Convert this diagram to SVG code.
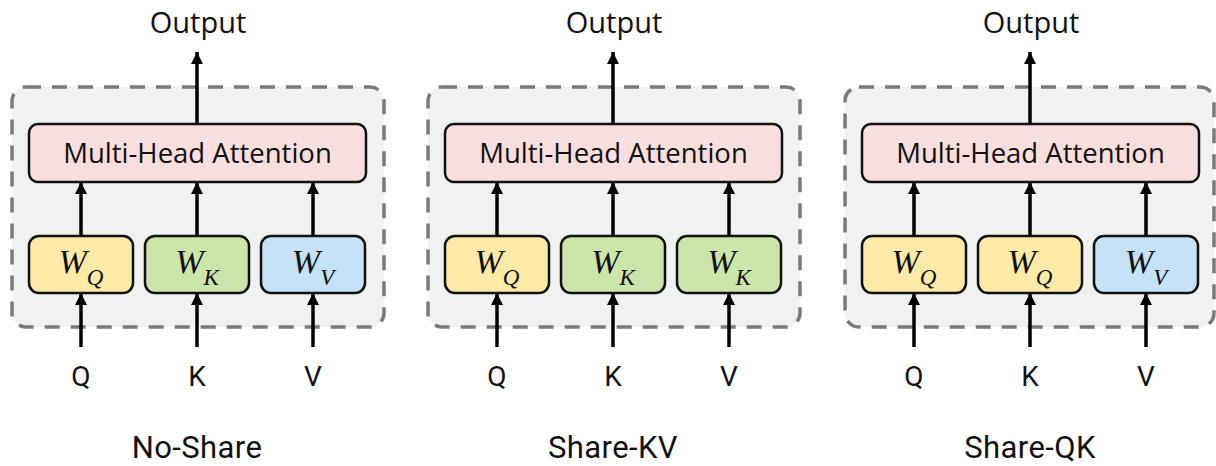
<svg xmlns="http://www.w3.org/2000/svg" width="1216" height="466" viewBox="0 0 1216 466">
<style>
.frame{fill:#F1F1F1;stroke:#7A7A7A;stroke-width:3.5;stroke-dasharray:15 11}
.mha{fill:#F9DEDE;stroke:#111;stroke-width:2.5}
.wq{fill:#FDEAA8;stroke:#111;stroke-width:2.5}
.wk{fill:#CBE5AB;stroke:#111;stroke-width:2.5}
.wv{fill:#C5E2F6;stroke:#111;stroke-width:2.5}
.os{font-family:"Open Sans","Liberation Sans",sans-serif;fill:#111;text-anchor:middle}
.rb{font-family:Roboto,"Liberation Sans",sans-serif;fill:#111;text-anchor:middle}
.lbl{font-size:31px;letter-spacing:0.4px}
.w{font-family:"Liberation Serif","DejaVu Serif",serif;font-style:italic;fill:#111;text-anchor:middle;font-size:34px}
.sub{font-size:23px}
.arr{stroke:#000;stroke-width:3.5;fill:none;marker-end:url(#ah)}
</style>
<defs>
<marker id="ah" viewBox="0 0 12 12" refX="12" refY="6" markerWidth="12" markerHeight="12" markerUnits="userSpaceOnUse" orient="auto">
<path d="M0,0 L12,6 L0,12 z" fill="#000"/>
</marker>
</defs>
<rect width="1216" height="466" fill="#fff"/>

<!-- Panel 1: No-Share -->
<g id="panel-noshare">
<g id="p1-frame"><rect class="frame" x="12" y="87" width="372" height="240" rx="14"/></g>
<g id="p1-mha"><rect class="mha" x="29" y="124" width="337" height="58" rx="9"/><text class="os" x="197.5" y="163" font-size="27.5">Multi-Head Attention</text></g>
<g id="p1-wq"><rect class="wq" x="29" y="236" width="104" height="57" rx="10"/><text class="w" x="81" y="273">W<tspan class="sub" dy="12">Q</tspan></text></g>
<g id="p1-wk"><rect class="wk" x="145" y="236" width="104" height="57" rx="10"/><text class="w" x="197" y="273">W<tspan class="sub" dy="12">K</tspan></text></g>
<g id="p1-wv"><rect class="wv" x="261" y="236" width="104" height="57" rx="10"/><text class="w" x="313" y="273">W<tspan class="sub" dy="12">V</tspan></text></g>
<g id="p1-output"><text class="os" x="198" y="33" font-size="29">Output</text></g>
<g id="p1-q"><text class="rb" x="81" y="386" font-size="28">Q</text></g>
<g id="p1-k"><text class="rb" x="197" y="386" font-size="28">K</text></g>
<g id="p1-v"><text class="rb" x="313" y="386" font-size="28">V</text></g>
<g id="p1-label"><text class="rb lbl" x="197" y="458">No-Share</text></g>
</g>

<!-- Panel 2: Share-KV -->
<g id="panel-sharekv" transform="translate(416,0)">
<g id="p2-frame"><rect class="frame" x="12" y="87" width="372" height="240" rx="14"/></g>
<g id="p2-mha"><rect class="mha" x="29" y="124" width="337" height="58" rx="9"/><text class="os" x="197.5" y="163" font-size="27.5">Multi-Head Attention</text></g>
<g id="p2-wq"><rect class="wq" x="29" y="236" width="104" height="57" rx="10"/><text class="w" x="81" y="273">W<tspan class="sub" dy="12">Q</tspan></text></g>
<g id="p2-wk1"><rect class="wk" x="145" y="236" width="104" height="57" rx="10"/><text class="w" x="197" y="273">W<tspan class="sub" dy="12">K</tspan></text></g>
<g id="p2-wk2"><rect class="wk" x="261" y="236" width="104" height="57" rx="10"/><text class="w" x="313" y="273">W<tspan class="sub" dy="12">K</tspan></text></g>
<g id="p2-output"><text class="os" x="198" y="33" font-size="29">Output</text></g>
<g id="p2-q"><text class="rb" x="81" y="386" font-size="28">Q</text></g>
<g id="p2-k"><text class="rb" x="197" y="386" font-size="28">K</text></g>
<g id="p2-v"><text class="rb" x="313" y="386" font-size="28">V</text></g>
<g id="p2-label"><text class="rb lbl" x="197" y="458">Share-KV</text></g>
</g>

<!-- Panel 3: Share-QK -->
<g id="panel-shareqk" transform="translate(833,0)">
<g id="p3-frame"><rect class="frame" x="12" y="87" width="369" height="240" rx="14"/></g>
<g id="p3-mha"><rect class="mha" x="29" y="124" width="337" height="58" rx="9"/><text class="os" x="197.5" y="163" font-size="27.5">Multi-Head Attention</text></g>
<g id="p3-wq1"><rect class="wq" x="29" y="236" width="104" height="57" rx="10"/><text class="w" x="81" y="273">W<tspan class="sub" dy="12">Q</tspan></text></g>
<g id="p3-wq2"><rect class="wq" x="145" y="236" width="104" height="57" rx="10"/><text class="w" x="197" y="273">W<tspan class="sub" dy="12">Q</tspan></text></g>
<g id="p3-wv"><rect class="wv" x="261" y="236" width="104" height="57" rx="10"/><text class="w" x="313" y="273">W<tspan class="sub" dy="12">V</tspan></text></g>
<g id="p3-output"><text class="os" x="198" y="33" font-size="29">Output</text></g>
<g id="p3-q"><text class="rb" x="81" y="386" font-size="28">Q</text></g>
<g id="p3-k"><text class="rb" x="197" y="386" font-size="28">K</text></g>
<g id="p3-v"><text class="rb" x="313" y="386" font-size="28">V</text></g>
<g id="p3-label"><text class="rb lbl" x="197" y="458">Share-QK</text></g>
</g>

<g id="connectors">
<g id="c1">
<line class="arr" x1="197" y1="124" x2="197" y2="52"/>
<line class="arr" x1="81" y1="236" x2="81" y2="182"/>
<line class="arr" x1="197" y1="236" x2="197" y2="182"/>
<line class="arr" x1="313" y1="236" x2="313" y2="182"/>
<line class="arr" x1="81" y1="347" x2="81" y2="293"/>
<line class="arr" x1="197" y1="347" x2="197" y2="293"/>
<line class="arr" x1="313" y1="347" x2="313" y2="293"/>
</g>
<g id="c2" transform="translate(416,0)">
<line class="arr" x1="197" y1="124" x2="197" y2="52"/>
<line class="arr" x1="81" y1="236" x2="81" y2="182"/>
<line class="arr" x1="197" y1="236" x2="197" y2="182"/>
<line class="arr" x1="313" y1="236" x2="313" y2="182"/>
<line class="arr" x1="81" y1="347" x2="81" y2="293"/>
<line class="arr" x1="197" y1="347" x2="197" y2="293"/>
<line class="arr" x1="313" y1="347" x2="313" y2="293"/>
</g>
<g id="c3" transform="translate(833,0)">
<line class="arr" x1="197" y1="124" x2="197" y2="52"/>
<line class="arr" x1="81" y1="236" x2="81" y2="182"/>
<line class="arr" x1="197" y1="236" x2="197" y2="182"/>
<line class="arr" x1="313" y1="236" x2="313" y2="182"/>
<line class="arr" x1="81" y1="347" x2="81" y2="293"/>
<line class="arr" x1="197" y1="347" x2="197" y2="293"/>
<line class="arr" x1="313" y1="347" x2="313" y2="293"/>
</g>
</g>
</svg>
